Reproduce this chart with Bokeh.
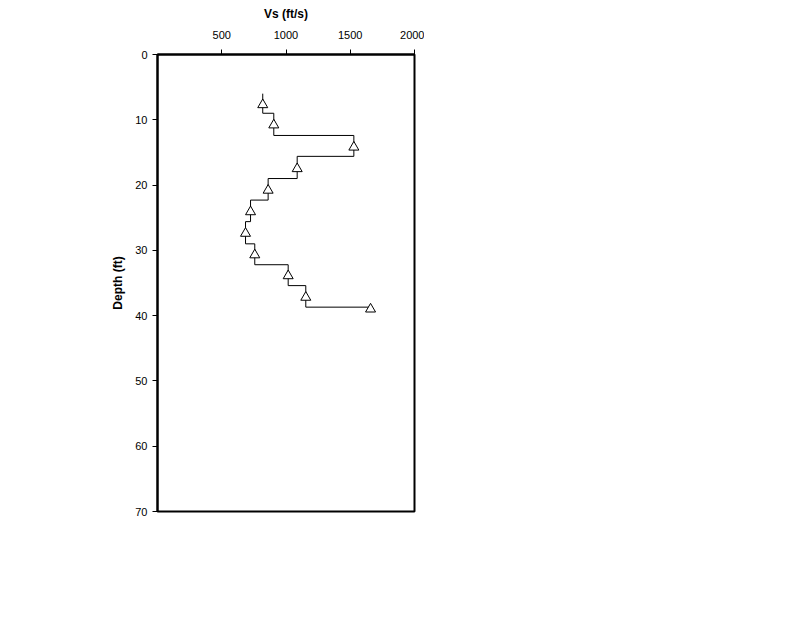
from bokeh.plotting import figure
from bokeh.models import Range1d, FixedTicker
from bokeh.embed import file_html
from bokeh.resources import INLINE

# Layer boundaries (ft) and shear-wave velocities (ft/s)
layer_bounds = [6.0, 9.0, 12.4, 15.6, 19.0, 22.3, 25.6, 29.0, 32.2, 35.4, 38.7]
layer_vs = [819, 905, 1528, 1087, 861, 724, 685, 757, 1017, 1154, 1658]

# Measured points (triangles)
meas_depth = [7.7, 10.8, 14.2, 17.5, 20.8, 24.1, 27.4, 30.7, 33.9, 37.2, 39.0]
meas_vs = [819, 905, 1528, 1087, 861, 724, 685, 757, 1017, 1154, 1658]

x_ticks = [500, 1000, 1500, 2000]
y_ticks = [0, 10, 20, 30, 40, 50, 60, 70]

# step profile path
sx, sy = [], []
for i in range(len(layer_bounds) - 1):
    sx += [layer_vs[i], layer_vs[i]]
    sy += [layer_bounds[i], layer_bounds[i + 1]]
sx.append(layer_vs[-1])
sy.append(layer_bounds[-1])

p = figure(frame_width=257, frame_height=457,
           x_range=Range1d(0, 2000), y_range=Range1d(70, 0),
           x_axis_location="above", output_backend="svg", toolbar_location=None,
           min_border_left=157, min_border_top=54, min_border_right=10, min_border_bottom=10)

p.line(sx, sy, line_color="black", line_width=1)
p.scatter(meas_vs, meas_depth, marker="triangle", size=10, fill_color="white",
          line_color="black", line_width=1)

p.xgrid.visible = False
p.ygrid.visible = False
p.outline_line_color = "black"
p.outline_line_width = 2
p.background_fill_color = "white"
p.border_fill_color = "white"

p.xaxis.ticker = FixedTicker(ticks=x_ticks)
p.yaxis.ticker = FixedTicker(ticks=y_ticks)
p.xaxis.axis_label = "Vs (ft/s)"
p.yaxis.axis_label = "Depth (ft)"
for ax in (p.xaxis[0], p.yaxis[0]):
    ax.axis_line_width = 2
    ax.axis_line_color = "black"
    ax.major_tick_line_color = "black"
    ax.major_tick_out = 5
    ax.major_tick_in = 0
    ax.minor_tick_line_color = None
    ax.major_label_text_font = "Liberation Sans"
    ax.major_label_text_font_size = "11px"
    ax.major_label_text_color = "black"
    ax.axis_label_text_font = "Liberation Sans"
    ax.axis_label_text_font_size = "12px"
    ax.axis_label_text_font_style = "bold"
    ax.axis_label_text_color = "black"
    ax.axis_label_standoff = 7
p.xaxis[0].major_label_standoff = 11
p.yaxis[0].major_label_standoff = 5

open("out.html", "w").write(file_html(p, INLINE))
